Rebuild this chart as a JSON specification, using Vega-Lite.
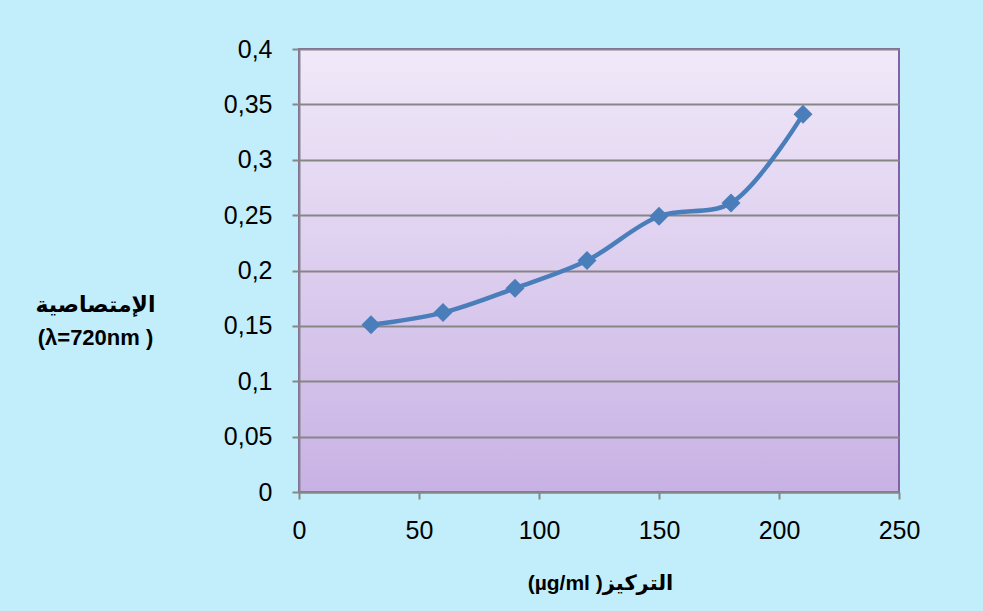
{
  "$schema": "https://vega.github.io/schema/vega-lite/v6.json",
  "width": 600,
  "height": 443,
  "autosize": {"type": "none"},
  "padding": {"left": 299, "top": 49, "right": 84, "bottom": 119},
  "background": "#c2eefb",
  "view": {
    "fill": {"gradient": "linear", "x1": 0, "y1": 0, "x2": 0, "y2": 1, "stops": [{"offset": 0, "color": "#f1e9f9"}, {"offset": 1, "color": "#c8b2e4"}]},
    "stroke": "#7f63a6",
    "strokeWidth": 2
  },
  "config": {"font": "Liberation Sans, DejaVu Sans"},
  "data": {"values": [
    {"conc": 30, "abs": 0.151},
    {"conc": 60, "abs": 0.162},
    {"conc": 90, "abs": 0.184},
    {"conc": 120, "abs": 0.209},
    {"conc": 150, "abs": 0.249},
    {"conc": 180, "abs": 0.261},
    {"conc": 210, "abs": 0.341}
  ]},
  "encoding": {
    "x": {"field": "conc", "type": "quantitative",
      "scale": {"domain": [0, 250], "nice": false, "zero": false},
      "axis": {"values": [0, 50, 100, 150, 200, 250], "grid": false, "labelFlush": false, "labelOverlap": false,
        "title": "(µg/ml )التركيز", "titleFontWeight": "bold", "titleFontSize": 21, "titleColor": "#000000",
        "titleX": 301, "titleY": 91, "titleAlign": "center", "titleBaseline": "middle", "titleFont": "Liberation Sans, DejaVu Sans",
        "labelFontSize": 25, "labelColor": "#000000", "labelPadding": 19, "labelFont": "Liberation Sans",
        "tickSize": 7, "tickColor": "#868686", "tickWidth": 2,
        "domainColor": "#868686", "domainWidth": 2}},
    "y": {"field": "abs", "type": "quantitative",
      "scale": {"domain": [0, 0.4], "nice": false},
      "axis": {"values": [0, 0.05, 0.1, 0.15, 0.2, 0.25, 0.3, 0.35, 0.4], "labelFlush": false, "labelOverlap": false,
        "labelExpr": "replace(format(datum.value, ''), '.', ',')",
        "grid": true, "gridColor": "#868686", "gridWidth": 2,
        "title": ["الإمتصاصية", "(λ=720nm )"], "titleAngle": 0, "titleFontWeight": "bold", "titleFontSize": 22, "titleColor": "#000000",
        "titleX": -204, "titleY": 255, "titleAlign": "center", "titleBaseline": "middle", "titleLineHeight": 33, "titleFont": "Liberation Sans, DejaVu Sans",
        "labelFontSize": 25, "labelColor": "#000000", "labelPadding": 20, "labelFont": "Liberation Sans",
        "tickSize": 7, "tickColor": "#868686", "tickWidth": 2,
        "domainColor": "#868686", "domainWidth": 2}}
  },
  "layer": [
    {"mark": {"type": "line", "interpolate": "catmull-rom", "color": "#4a7ebb", "strokeWidth": 4.5}},
    {"mark": {"type": "point", "shape": "diamond", "filled": true, "size": 360, "color": "#4a7ebb", "opacity": 1}}
  ]
}
